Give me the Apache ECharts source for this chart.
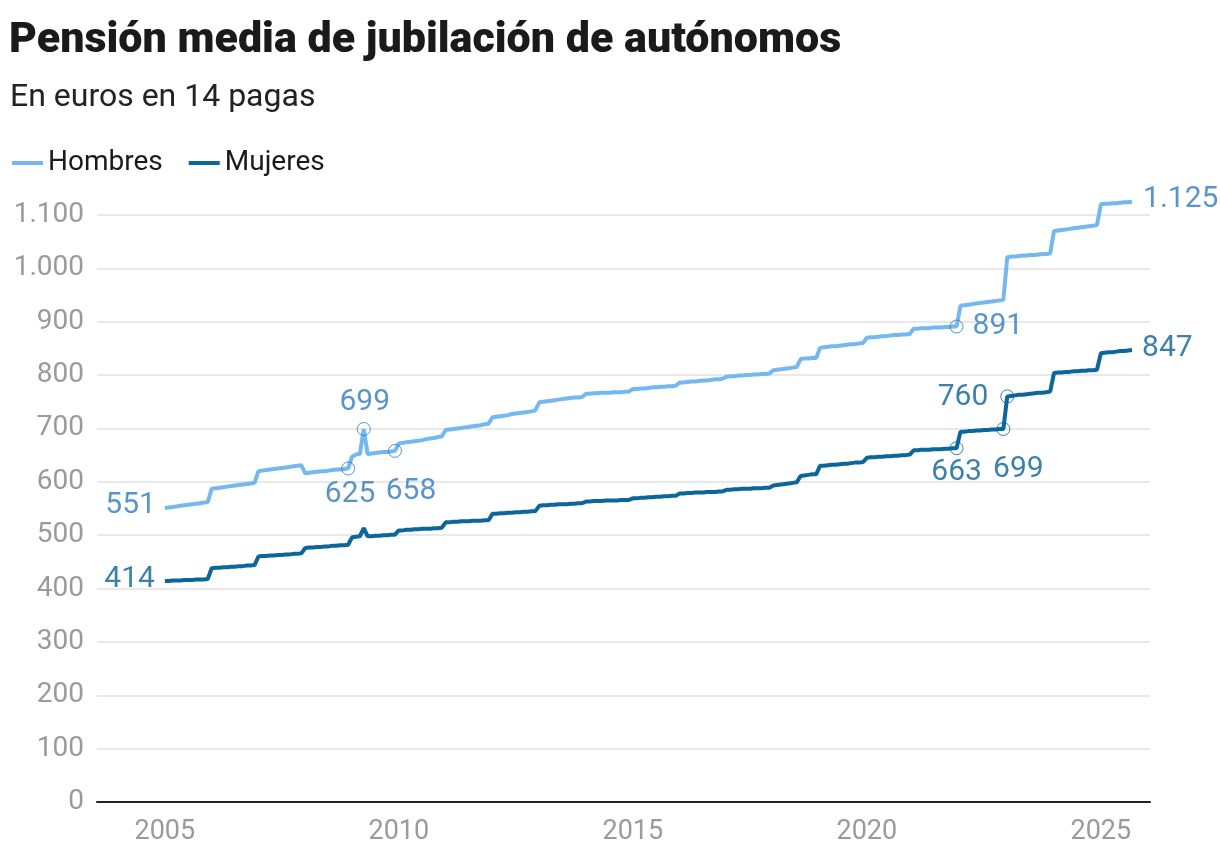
<!DOCTYPE html>
<html>
<head>
<meta charset="utf-8">
<script src="https://cdn.jsdelivr.net/npm/echarts@6/dist/echarts.min.js"></script>
<style>
html,body{margin:0;padding:0;background:#fff;}
#chart{width:1220px;height:854px;}
</style>
</head>
<body>
<div id="chart"></div>
<script>
// ---- Data (monthly, Jan 2005 .. Sep 2025) ----
const titleText = 'Pensión media de jubilación de autónomos';
const subtitleText = 'En euros en 14 pagas';
const seriesNames = ['Hombres', 'Mujeres'];
const startYear = 2005;
const xTickLabels = [2005, 2010, 2015, 2020, 2025];

const hombres = [
  551, 552, 553, 554, 555, 556, 557, 558, 559, 560, 561, 562,      // 2005
  587, 588, 589, 590, 591, 592, 593, 594, 595, 596, 597, 598,      // 2006
  620, 621, 622, 623, 624, 625, 626, 627, 628, 629, 630, 631,      // 2007
  616, 617, 618, 619, 620, 620, 621, 622, 623, 623, 624, 625,      // 2008
  647, 651, 652, 699, 652, 653, 654, 655, 656, 656, 657, 658,      // 2009
  672, 673, 674, 675, 676, 677, 678, 680, 681, 682, 684, 685,      // 2010
  697, 698, 699, 700, 701, 702, 703, 704, 705, 706, 708, 709,      // 2011
  721, 722, 723, 724, 725, 727, 728, 729, 730, 731, 732, 734,      // 2012
  749, 750, 751, 752, 753, 754, 755, 756, 757, 758, 758, 759,      // 2013
  765, 765, 766, 766, 767, 767, 767, 768, 768, 768, 769, 769,      // 2014
  774, 774, 775, 775, 776, 777, 777, 778, 778, 779, 779, 780,      // 2015
  786, 786, 787, 788, 788, 789, 790, 790, 791, 792, 792, 793,      // 2016
  797, 798, 798, 799, 799, 800, 800, 801, 801, 802, 802, 803,      // 2017
  809, 810, 811, 812, 813, 814, 815, 830, 831, 831, 832, 832,      // 2018
  851, 852, 853, 854, 854, 855, 856, 857, 858, 858, 859, 860,      // 2019
  870, 871, 871, 872, 873, 873, 874, 875, 875, 876, 876, 877,      // 2020
  887, 887, 888, 888, 888, 889, 889, 889, 890, 890, 891, 891,      // 2021
  930, 931, 932, 933, 934, 935, 936, 937, 938, 939, 940, 941,      // 2022
  1021, 1022, 1022, 1023, 1024, 1024, 1025, 1025, 1026, 1027, 1027, 1028, // 2023
  1070, 1071, 1072, 1073, 1074, 1075, 1076, 1077, 1078, 1079, 1080, 1081, // 2024
  1120, 1121, 1121, 1122, 1122, 1123, 1124, 1124, 1125              // 2025
];

const mujeres = [
  414, 414, 415, 415, 415, 416, 416, 416, 417, 417, 417, 418,      // 2005
  438, 439, 439, 440, 440, 441, 441, 442, 442, 443, 443, 444,      // 2006
  460, 461, 461, 462, 462, 463, 463, 464, 464, 465, 465, 466,      // 2007
  476, 477, 477, 478, 478, 479, 479, 480, 480, 481, 481, 482,      // 2008
  496, 497, 498, 513, 498, 498, 499, 499, 500, 500, 501, 501,      // 2009
  509, 509, 510, 510, 511, 511, 512, 512, 512, 513, 513, 514,      // 2010
  524, 524, 525, 525, 526, 526, 526, 527, 527, 527, 528, 528,      // 2011
  540, 540, 541, 541, 542, 542, 543, 543, 544, 544, 545, 545,      // 2012
  555, 556, 556, 557, 557, 558, 558, 558, 559, 559, 560, 560,      // 2013
  563, 563, 564, 564, 564, 565, 565, 565, 565, 566, 566, 566,      // 2014
  569, 569, 570, 570, 571, 571, 572, 572, 573, 573, 574, 574,      // 2015
  578, 578, 579, 579, 580, 580, 580, 581, 581, 581, 582, 582,      // 2016
  585, 585, 586, 586, 587, 587, 587, 588, 588, 588, 589, 589,      // 2017
  593, 594, 595, 596, 597, 598, 599, 611, 612, 613, 614, 614,      // 2018
  630, 630, 631, 632, 632, 633, 634, 634, 635, 636, 636, 637,      // 2019
  645, 646, 646, 647, 647, 648, 648, 649, 649, 650, 650, 651,      // 2020
  659, 659, 660, 660, 660, 661, 661, 661, 662, 662, 663, 663,      // 2021
  694, 694, 695, 695, 696, 696, 697, 697, 698, 698, 699, 699,      // 2022
  760, 761, 762, 763, 763, 764, 765, 766, 767, 767, 768, 769,      // 2023
  804, 805, 805, 806, 806, 807, 807, 808, 808, 809, 809, 810,      // 2024
  841, 842, 843, 843, 844, 845, 845, 846, 847                       // 2025
];

// annotated months (year, month 1-12)
const hombresNotes = [[2005, 1], [2008, 12], [2009, 4], [2009, 12], [2021, 12], [2025, 9]];
const mujeresNotes = [[2005, 1], [2021, 12], [2022, 12], [2023, 1], [2025, 9]];

// ---- Styling / layout (kept out of data) ----
const C_H = '#74b8ef', C_HL = '#2f7bbb';
const C_M = '#0b6699', C_ML = '#0a6195';
const FONT = 'Roboto, "Noto Sans", sans-serif';

function monthX(i) { return startYear + i / 12; }
function toPairs(arr) { return arr.map((v, i) => [monthX(i), v]); }
function fmt(v) { return String(v).replace(/\B(?=(\d{3})+(?!\d))/g, '.'); }
function noteIndex(n) { return (n[0] - startYear) * 12 + (n[1] - 1); }

// label layout per annotation: [circle?, align, dx, dy]
const hLayout = [
  [false, 'right', -9, -2],
  [true, 'center', 2, 26],
  [true, 'center', 1, -26],
  [true, 'center', 16, 41],
  [true, 'left', 16, 0],
  [false, 'left', 11, -2]
];
const mLayout = [
  [false, 'right', -10, -2],
  [true, 'center', 0, 24],
  [true, 'center', 15, 41],
  [true, 'right', -19, 1],
  [false, 'left', 10, -2]
];

function noteData(notes, values, layout, color) {
  return notes.map((n, k) => {
    const i = noteIndex(n);
    const v = values[i];
    const L = layout[k];
    return {
      value: [monthX(i), v],
      symbolSize: L[0] ? 13 : 1,
      itemStyle: {
        color: 'rgba(255,255,255,0)',
        borderColor: color,
        borderWidth: L[0] ? 1 : 0
      },
      label: {
        show: true,
        position: 'inside',
        align: L[1],
        verticalAlign: 'middle',
        offset: [L[2], L[3]],
        formatter: fmt(v),
        color: color,
        fontSize: 30,
        fontFamily: FONT
      }
    };
  });
}

const chart = echarts.init(document.getElementById('chart'), null, { renderer: 'canvas' });
chart.setOption({
  animation: false,
  backgroundColor: '#ffffff',
  title: [
    { text: titleText, left: 4, top: 15,
      textStyle: { fontFamily: FONT, fontWeight: 900, fontSize: 43, color: '#1a1a1a' } },
    { text: subtitleText, left: 5, top: 77,
      textStyle: { fontFamily: FONT, fontWeight: 'normal', fontSize: 32, color: '#222' } }
  ],
  legend: {
    data: seriesNames,
    left: 7, top: 144,
    icon: 'rect', itemWidth: 31, itemHeight: 4, itemGap: 26,
    textStyle: { fontFamily: FONT, fontSize: 28, color: '#1a1a1a', padding: [0, 0, 0, 0] }
  },
  grid: { left: 97, right: 70, top: 215, bottom: 52, containLabel: false },
  xAxis: {
    type: 'value',
    min: 2003.55, max: 2026.05,
    axisLine: { show: true, lineStyle: { color: '#222', width: 2 } },
    axisTick: { show: false },
    splitLine: { show: false },
    axisLabel: {
      customValues: xTickLabels,
      formatter: v => String(v),
      color: '#9a9a9a', fontSize: 27, fontFamily: FONT, margin: 17
    }
  },
  yAxis: {
    type: 'value',
    min: 0, max: 1100, interval: 100,
    axisLine: { show: false },
    axisTick: { show: false },
    splitLine: { lineStyle: { color: '#e2e2e2', width: 1.5 } },
    axisLabel: { formatter: v => fmt(v), color: '#9a9a9a', fontSize: 28, fontFamily: FONT, margin: 13 }
  },
  series: [
    { name: seriesNames[0], type: 'line', data: toPairs(hombres), showSymbol: false, clip: false,
      lineStyle: { color: C_H, width: 4 }, itemStyle: { color: C_H }, z: 3 },
    { name: seriesNames[1], type: 'line', data: toPairs(mujeres), showSymbol: false, clip: false,
      lineStyle: { color: C_M, width: 4 }, itemStyle: { color: C_M }, z: 3 },
    { name: 'notasH', type: 'scatter', data: noteData(hombresNotes, hombres, hLayout, C_HL), z: 5, silent: true, clip: false },
    { name: 'notasM', type: 'scatter', data: noteData(mujeresNotes, mujeres, mLayout, C_ML), z: 5, silent: true, clip: false }
  ]
});
</script>
</body>
</html>
